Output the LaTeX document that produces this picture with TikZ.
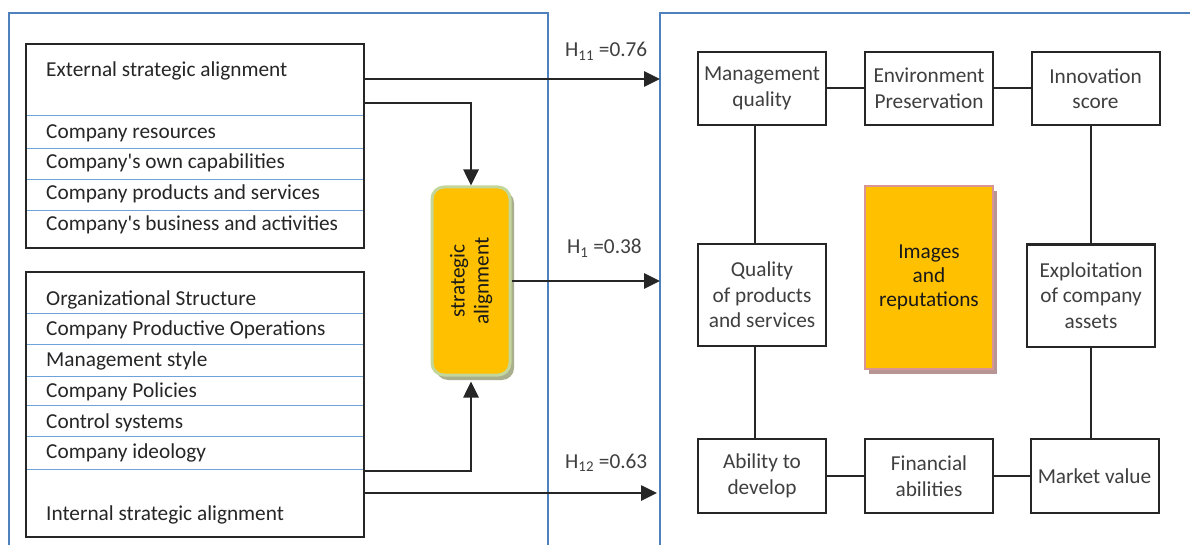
\documentclass[tikz,border=0pt]{standalone}
\usepackage{fontspec}
\setmainfont{Carlito}
\usetikzlibrary{arrows.meta}

\definecolor{panelblue}{HTML}{4F81BD}
\definecolor{rowsep}{HTML}{6FA3D8}
\definecolor{gold}{HTML}{FFC000}
\definecolor{greenedge}{HTML}{C3D69B}
\definecolor{greenshadow}{HTML}{A9AE8C}
\definecolor{pinkedge}{HTML}{D99594}
\definecolor{pinkshadow}{HTML}{B79595}
\definecolor{txtdark}{HTML}{262626}
\definecolor{txtgrey}{HTML}{3F3F3F}

\newcommand{\apos}{\textquotesingle}

\tikzset{
  panel/.style={draw=panelblue, line width=2pt},
  listbox/.style={draw=black!85, line width=2pt, inner sep=0pt},
  sepline/.style={draw=rowsep, line width=1pt},
  rowtext/.style={anchor=base west, text=txtdark, inner sep=0pt,
    font=\fontsize{21.3}{24}\selectfont},
  factor/.style={draw=black!85, line width=2pt, minimum width=128pt, inner sep=2pt,
    align=center, text=txtgrey, font=\fontsize{21.3}{25.5}\selectfont},
  link/.style={draw=black!85, line width=2pt},
  conn/.style={draw=black!85, line width=2.6pt, -{Triangle[length=16pt,width=15pt]}},
  hlabel/.style={anchor=base west, inner sep=0pt, text=txtgrey,
    font=\fontsize{21.3}{24}\selectfont},
  goldtext/.style={align=center, text=black!90, font=\fontsize{21.3}{24}\selectfont},
}

\begin{document}
\begin{tikzpicture}[x=1pt,y=-1pt]
\useasboundingbox (0,0) rectangle (1190,545);
\fill[white] (0,0) rectangle (1190,545);

% two panels
\draw[panel] (9,547) -- (9,13.5) -- (548,13.5) -- (548,547);
\draw[panel] (660,547) -- (660,13.5) -- (1192,13.5);

% external alignment list
\node[listbox, minimum width=338pt, minimum height=204pt] (ext) at (195,146) {};
\foreach \y in {116,149,180,211} \draw[sepline] (27,\y) -- (363,\y);
\node[rowtext] (extt) at (46,77) {External strategic alignment};
\node[rowtext] (e1) at (46,138.5) {Company resources};
\node[rowtext] (e2) at (46,169) {Company\apos s own capabilities};
\node[rowtext] (e3) at (46,199.5) {Company products and services};
\node[rowtext] (e4) at (46,230) {Company\apos s business and activities};

% internal alignment list
\node[listbox, minimum width=338pt, minimum height=265pt] (int) at (195,404.5) {};
\foreach \y in {313,344,376,405,436,469} \draw[sepline] (27,\y) -- (363,\y);
\node[rowtext] (i1) at (46,305) {Organizational Structure};
\node[rowtext] (i2) at (46,335.5) {Company Productive Operations};
\node[rowtext] (i3) at (46,366) {Management style};
\node[rowtext] (i4) at (46,397) {Company Policies};
\node[rowtext] (i5) at (46,428) {Control systems};
\node[rowtext] (i6) at (46,458.5) {Company ideology};
\node[rowtext] (intt) at (46,520) {Internal strategic alignment};

% strategic alignment block
\fill[greenshadow, rounded corners=12pt] (436,191) rectangle (514,380);
\node[fill=gold, draw=greenedge, line width=3pt, rounded corners=12pt,
      minimum width=78pt, minimum height=188pt] (sa) at (471,281) {};
\node[goldtext, rotate=90] (sat) at (sa.center) {strategic\\alignment};

% images and reputations block
\fill[pinkshadow] (869,191) rectangle (997,374);
\node[fill=gold, draw=pinkedge, line width=2.5pt,
      minimum width=128pt, minimum height=183pt] (img) at (929,277.5) {};
\node[goldtext] (imgt) at (img.center) {Images\\and\\reputations};

% reputation factors
\node[factor, minimum height=73pt] (mq) at (762,88.5) {Management\\quality};
\node[factor, minimum height=73pt] (env) at (929,88.5) {Environment\\Preservation};
\node[factor, minimum height=73pt] (inn) at (1095.5,88.5) {Innovation\\score};
\node[factor, minimum height=102pt] (qual) at (762,295) {Quality\\of products\\and services};
\node[factor, minimum height=102pt] (expl) at (1091,295.5) {Exploitation\\of company\\assets};
\node[factor, minimum height=74pt] (abil) at (762,476) {Ability to\\develop};
\node[factor, minimum height=74pt] (fin) at (929,476) {Financial\\abilities};
\node[factor, minimum height=74pt] (mkt) at (1094.5,476) {Market value};

% factor links
\draw[link] (mq.east) -- (env.west);
\draw[link] (env.east) -- (inn.west);
\draw[link] (abil.east) -- (fin.west);
\draw[link] (fin.east) -- (mkt.west);
\draw[link] ([xshift=-7pt]mq.south) -- ([xshift=-7pt]qual.north);
\draw[link] ([xshift=-7pt]qual.south) -- ([xshift=-7pt]abil.north);
\draw[link] ([xshift=-4.5pt]inn.south) -- (expl.north);
\draw[link] (expl.south) -- ([xshift=-3.5pt]mkt.north);

% connector end points
\coordinate (extA) at (364,79);
\coordinate (extB) at (364,103);
\coordinate (intA) at (364,471);
\coordinate (intB) at (364,493);
\coordinate (h11end) at (660,79);
\coordinate (h1end) at (660,281);
\coordinate (h12end) at (657,493);

% hypothesis arrows
\draw[conn] (extA) -- (h11end);
\draw[conn] (extB) -| (sa.north);
\draw[conn, shorten >=5pt] (intA) -| (sa.south);
\draw[conn] (intB) -- (h12end);
\draw[conn] (sa.east) -- (h1end);

\node[hlabel] (h11) at (565,57) {H\textsubscript{11} =0.76};
\node[hlabel] (h1) at (567,254) {H\textsubscript{1} =0.38};
\node[hlabel] (h12) at (565,468) {H\textsubscript{12} =0.63};
\end{tikzpicture}
\end{document}
